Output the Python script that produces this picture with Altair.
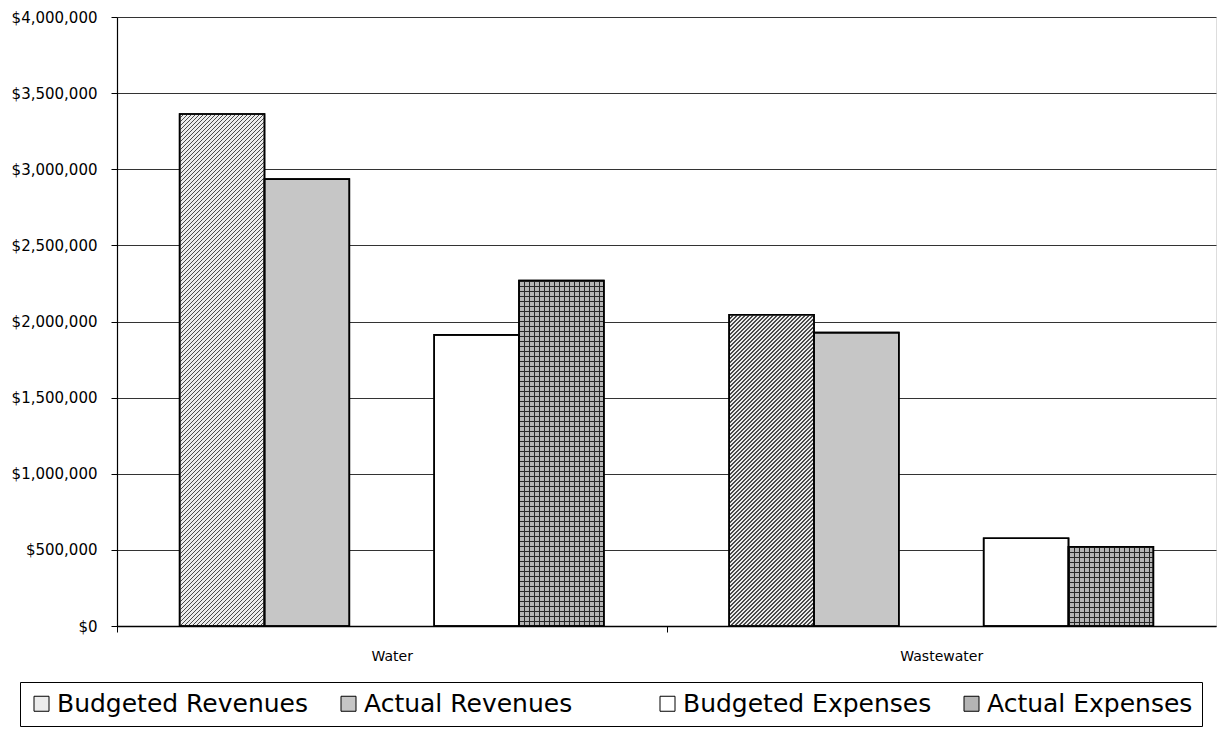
import altair as alt
import pandas as pd

# ---- data -------------------------------------------------------------
categories = ["Water", "Wastewater"]
series = ["Budgeted Revenues", "Actual Revenues", "Budgeted Expenses", "Actual Expenses"]
budgeted_revenues = [3363000, 2044000]
actual_revenues = [2935000, 1927000]
budgeted_expenses = [1912000, 576000]
actual_expenses = [2269000, 521000]

# empty slot that separates the revenue pair from the expense pair
GAP = "gap"
slot_order = series[:2] + [GAP] + series[2:]

rows = []
for i, cat in enumerate(categories):
    for name, vals in zip(series, [budgeted_revenues, actual_revenues,
                                   budgeted_expenses, actual_expenses]):
        rows.append({"category": cat, "series": name, "amount": vals[i]})
df = pd.DataFrame(rows)

# ---- layout -------------------------------------------------------------
W, H = 1099, 609
Y_MAX = 4_000_000
PAD_INNER = 0.228
STEP = W / 2
BAR_W = STEP * (1 - PAD_INNER) / len(slot_order)
FONT = "DejaVu Sans"

CLEAR = "rgba(255,255,255,0)"
fills = ["#ececec", "#c6c6c6", CLEAR, "#ffffff", "#b4b4b4"]
strokes = ["black", "black", CLEAR, "black", "black"]


# ---- fill patterns (striped linear gradients) ---------------------------
def stripe_stops(n_periods, ink, duty):
    stops = []
    k = 0
    while k < n_periods:
        a = k / n_periods
        b = min((k + duty) / n_periods, 1.0)
        c = min((k + 1) / n_periods, 1.0)
        stops += [{"offset": a, "color": ink}, {"offset": b, "color": ink},
                  {"offset": b, "color": CLEAR}, {"offset": c, "color": CLEAR}]
        k += 1
    return stops


def diagonal_hatch(value, period=4.0, ink="#4a4a4a", duty=0.32):
    # isolines of x + y in pixel space -> "////" stripes
    h = value / Y_MAX * H
    w = BAR_W
    k = (w + h) / (w * w + h * h)
    return {"gradient": "linear", "x1": 0, "y1": 0, "x2": k * w, "y2": k * h,
            "stops": stripe_stops((w + h) / period, ink, duty)}


def vertical_lines(period=5.0, ink="#262626", duty=0.28):
    return {"gradient": "linear", "x1": 0, "y1": 0, "x2": 1, "y2": 0,
            "stops": stripe_stops(BAR_W / period, ink, duty)}


def horizontal_lines(value, period=5.0, ink="#262626", duty=0.28):
    h = value / Y_MAX * H
    return {"gradient": "linear", "x1": 0, "y1": 0, "x2": 0, "y2": 1,
            "stops": stripe_stops(h / period, ink, duty)}


# ---- encodings ----------------------------------------------------------
x_enc = alt.X(
    "category:N", sort=categories, title=None,
    scale=alt.Scale(domain=categories, paddingInner=PAD_INNER, paddingOuter=PAD_INNER / 2),
    axis=alt.Axis(labelAngle=0, tickOffset=-STEP / 2, labelOffset=STEP / 2,
                  tickSize=6, tickColor="black",
                  domainColor="black", domainWidth=1.5, labelFont=FONT, labelFontSize=14,
                  labelColor="black", labelPadding=17, grid=False),
)
xoff_enc = alt.XOffset("series:N", scale=alt.Scale(domain=slot_order, paddingInner=0, paddingOuter=0))
y_enc = alt.Y(
    "amount:Q", title=None,
    scale=alt.Scale(domain=[0, Y_MAX], nice=False),
    axis=alt.Axis(values=list(range(0, Y_MAX + 1, 500_000)), format="$,.0f",
                  tickSize=6, tickColor="black", domainColor="black", domainWidth=1.2,
                  labelFont=FONT, labelFontSize=15, labelColor="black", labelPadding=14,
                  grid=True, gridColor="#333333", gridWidth=1),
)

legend = alt.Legend(
    title=None, orient="none", legendX=-97, legendY=665, direction="horizontal",
    columns=5, columnPadding=27, padding=9, strokeColor="black",
    symbolType="square", symbolSize=225, symbolStrokeWidth=1,
    labelFont=FONT, labelFontSize=25, labelColor="black", labelOffset=3, labelLimit=500,
    labelExpr=f"datum.label == '{GAP}' ? '' : datum.label",
)

bars = alt.Chart(df).mark_bar(strokeWidth=1.6).encode(
    x=x_enc, xOffset=xoff_enc, y=y_enc,
    color=alt.Color("series:N", scale=alt.Scale(domain=slot_order, range=fills), legend=legend),
    stroke=alt.Stroke("series:N", scale=alt.Scale(domain=slot_order, range=strokes), legend=legend),
)

layers = [bars]
for i, cat in enumerate(categories):
    sel = (alt.datum.category == cat)
    # diagonal hatch on budgeted revenues
    layers.append(
        alt.Chart(df).transform_filter(sel & (alt.datum.series == series[0]))
        .mark_bar(fill=diagonal_hatch(budgeted_revenues[i]), strokeWidth=0)
        .encode(x=x_enc, xOffset=xoff_enc, y=y_enc)
    )
    # grid pattern on actual expenses
    for grad in (vertical_lines(), horizontal_lines(actual_expenses[i])):
        layers.append(
            alt.Chart(df).transform_filter(sel & (alt.datum.series == series[3]))
            .mark_bar(fill=grad, strokeWidth=0)
            .encode(x=x_enc, xOffset=xoff_enc, y=y_enc)
        )

outline = alt.Chart(df).mark_bar(fillOpacity=0, stroke="black", strokeWidth=1.6).encode(
    x=x_enc, xOffset=xoff_enc, y=y_enc
)
layers.append(outline)

chart = (
    alt.layer(*layers)
    .properties(width=W, height=H,
                padding={"left": 117, "top": 17, "right": 2, "bottom": 103},
                autosize=alt.AutoSizeParams(type="none"))
    .configure_view(strokeWidth=0)
    .configure(font=FONT, background="white")
)

chart.save("out.html", embed_options={"renderer": "svg", "actions": False})
